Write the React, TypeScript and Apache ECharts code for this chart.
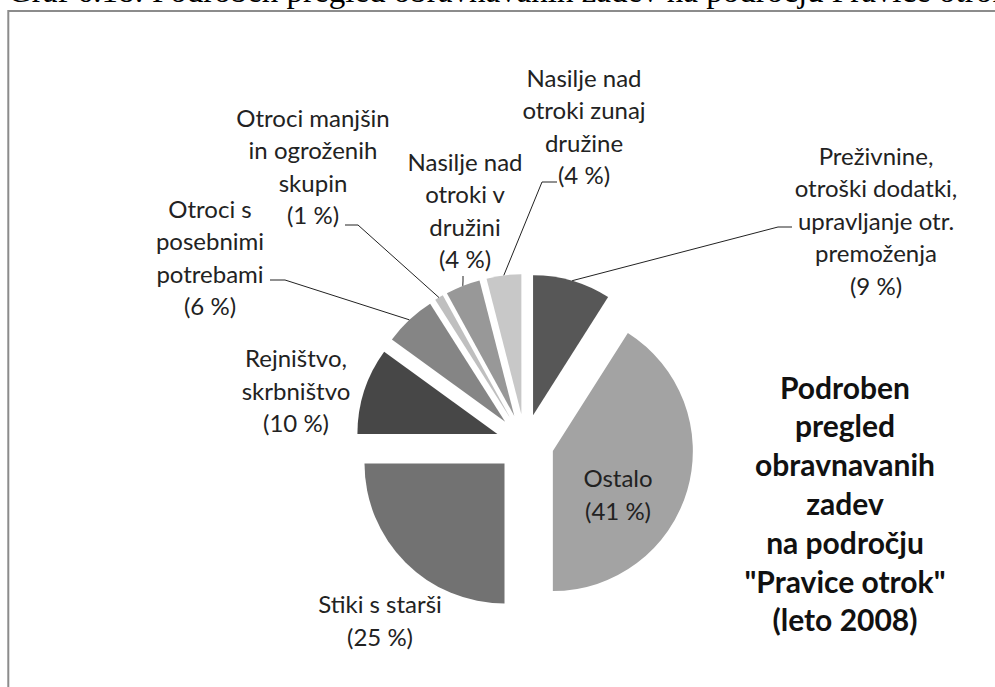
import React, { useEffect, useRef } from 'react';
import * as echarts from 'echarts';

// ---- data ----
const categories: string[] = [
  'Preživnine,\notroški dodatki,\nupravljanje otr.\npremoženja',
  'Ostalo',
  'Stiki s starši',
  'Rejništvo,\nskrbništvo',
  'Otroci s\nposebnimi\npotrebami',
  'Otroci manjšin\nin ogroženih\nskupin',
  'Nasilje nad\notroki v\ndružini',
  'Nasilje nad\notroki zunaj\ndružine',
];
const values: number[] = [9, 41, 25, 10, 6, 1, 4, 4];

const captionText = 'Graf 6.18: Podroben pregled obravnavanih zadev na področju Pravice otrok';
const chartTitle = 'Podroben\npregled\nobravnavanih\nzadev\nna področju\n"Pravice otrok"\n(leto 2008)';

// ---- styles / layout ----
const sliceColors = ['#575757', '#a3a3a3', '#727272', '#474747', '#858585', '#bfbfbf', '#989898', '#c8c8c8'];
const CX = 525;
const CY = 443;
const R = 140;
const OFFSET = 29;

type LabelPlace = { x: number; y: number; line?: number[][] };
const labelPlaces: LabelPlace[] = [
  { x: 876, y: 220, line: [[778, 227], [792, 227]] },
  { x: 618, y: 494 },
  { x: 380, y: 620 },
  { x: 296, y: 390 },
  { x: 210, y: 257, line: [[285, 280], [270, 280]] },
  { x: 313, y: 166, line: [[358, 225], [345, 225]] },
  { x: 465, y: 210, line: [[463, 281], [463, 276]] },
  { x: 584, y: 126, line: [[542, 182], [557, 182]] },
];

function arcMid(i: number): number[] {
  const total = values.reduce((a, b) => a + b, 0);
  let cum = 0;
  for (let k = 0; k < i; k++) cum += values[k];
  const ang = ((cum + values[i] / 2) / total) * Math.PI * 2;
  return [CX + (R + OFFSET) * Math.sin(ang), CY - (R + OFFSET) * Math.cos(ang)];
}

export default function App() {
  const ref = useRef<HTMLDivElement>(null);
  useEffect(() => {
    if (!ref.current) return;
    const chart = echarts.init(ref.current, undefined, { renderer: 'svg' });

    const labelTexts: any[] = values.map((v, i) => ({
      type: 'text',
      x: labelPlaces[i].x,
      y: labelPlaces[i].y,
      z: 20,
      silent: true,
      style: {
        text: `${categories[i]}\n(${v} %)`,
        fontFamily: 'Lato',
        fontSize: 24,
        lineHeight: 32.5,
        fill: '#222',
        align: 'center',
        verticalAlign: 'middle',
      },
    }));
    const leaders: any[] = [];
    values.forEach((v, i) => {
      const p = labelPlaces[i];
      if (!p.line) return;
      leaders.push({
        type: 'polyline',
        silent: true,
        z: 20,
        shape: { points: [arcMid(i), p.line[0], p.line[1]] },
        style: { stroke: '#222', lineWidth: 1, fill: 'none' },
      });
    });

    chart.setOption({
      animation: false,
      backgroundColor: '#ffffff',
      graphic: [
        {
          type: 'text',
          x: 8,
          y: 7,
          style: {
            text: captionText,
            fontFamily: '"Liberation Serif", serif',
            fontSize: 33,
            fill: '#000',
            align: 'left',
            verticalAlign: 'bottom',
          },
        },
        {
          type: 'rect',
          shape: { x: 8.3, y: 11, width: 1200, height: 900 },
          style: { fill: 'none', stroke: '#8c8c8c', lineWidth: 2 },
        },
        {
          type: 'text',
          x: 845,
          y: 503,
          z: 20,
          style: {
            text: chartTitle,
            fontFamily: 'Lato',
            fontWeight: 'bold',
            fontSize: 30,
            lineHeight: 38.8,
            fill: '#111',
            align: 'center',
            verticalAlign: 'middle',
          },
        },
        ...leaders,
        ...labelTexts,
      ],
      series: [
        {
          type: 'pie',
          center: [CX, CY],
          radius: R,
          startAngle: 90,
          clockwise: true,
          selectedMode: 'multiple',
          selectedOffset: OFFSET,
          avoidLabelOverlap: false,
          silent: true,
          z: 2,
          label: { show: false },
          labelLine: { show: false },
          itemStyle: { borderWidth: 0 },
          select: { itemStyle: { borderWidth: 0 } },
          emphasis: { disabled: true },
          data: values.map((v, i) => ({
            name: categories[i],
            value: v,
            selected: true,
            itemStyle: { color: sliceColors[i] },
          })),
        },
      ],
    });
    return () => chart.dispose();
  }, []);
  return (
    <div
      ref={ref}
      style={{ position: 'fixed', left: 0, top: 0, width: 995, height: 687, background: '#fff' }}
    />
  );
}
